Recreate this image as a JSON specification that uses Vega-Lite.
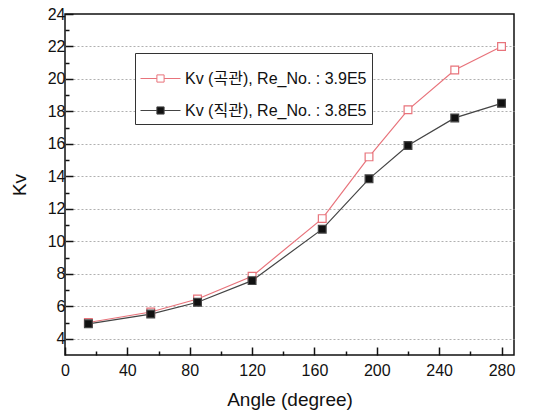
{
  "$schema": "https://vega.github.io/schema/vega-lite/v6.json",
  "width": 449,
  "height": 341,
  "autosize": {"type": "none"},
  "padding": {"left": 65, "top": 14, "right": 21, "bottom": 58},
  "background": "white",
  "config": {
    "font": "Liberation Sans, Noto Sans CJK KR",
    "view": {"stroke": "#111", "strokeWidth": 1.5},
    "legend": {
      "title": null,
      "orient": "none",
      "legendX": 70,
      "legendY": 39,
      "symbolType": "M-1,0H-0.18M0.18,0H1M-0.18,-0.18H0.18V0.18H-0.18Z",
      "symbolSize": 1600,
      "symbolStrokeWidth": 1,
      "labelFontSize": 16,
      "labelColor": "#111",
      "labelOffset": 4,
      "rowPadding": 3,
      "padding": 5,
      "strokeColor": "#333",
      "fillColor": "white",
      "labelLimit": 400
    }
  },
  "data": {
    "values": [
      {"series": "Kv (곡관), Re_No. : 3.9E5", "angle": 15, "kv": 5.0},
      {"series": "Kv (곡관), Re_No. : 3.9E5", "angle": 55, "kv": 5.65},
      {"series": "Kv (곡관), Re_No. : 3.9E5", "angle": 85, "kv": 6.45},
      {"series": "Kv (곡관), Re_No. : 3.9E5", "angle": 120, "kv": 7.85},
      {"series": "Kv (곡관), Re_No. : 3.9E5", "angle": 165, "kv": 11.4},
      {"series": "Kv (곡관), Re_No. : 3.9E5", "angle": 195, "kv": 15.2},
      {"series": "Kv (곡관), Re_No. : 3.9E5", "angle": 220, "kv": 18.1},
      {"series": "Kv (곡관), Re_No. : 3.9E5", "angle": 250, "kv": 20.55},
      {"series": "Kv (곡관), Re_No. : 3.9E5", "angle": 280, "kv": 22.0},
      {"series": "Kv (직관), Re_No. : 3.8E5", "angle": 15, "kv": 4.92},
      {"series": "Kv (직관), Re_No. : 3.8E5", "angle": 55, "kv": 5.52},
      {"series": "Kv (직관), Re_No. : 3.8E5", "angle": 85, "kv": 6.25},
      {"series": "Kv (직관), Re_No. : 3.8E5", "angle": 120, "kv": 7.58},
      {"series": "Kv (직관), Re_No. : 3.8E5", "angle": 165, "kv": 10.75},
      {"series": "Kv (직관), Re_No. : 3.8E5", "angle": 195, "kv": 13.85},
      {"series": "Kv (직관), Re_No. : 3.8E5", "angle": 220, "kv": 15.9},
      {"series": "Kv (직관), Re_No. : 3.8E5", "angle": 250, "kv": 17.6},
      {"series": "Kv (직관), Re_No. : 3.8E5", "angle": 280, "kv": 18.5}
    ]
  },
  "encoding": {
    "x": {
      "field": "angle",
      "type": "quantitative",
      "scale": {"domain": [0, 288], "nice": false, "zero": false},
      "axis": {
        "title": "Angle (degree)",
        "titleFontSize": 19,
        "titleFontWeight": "normal",
        "titleColor": "#111",
        "titlePadding": 12,
        "values": [0, 20, 40, 60, 80, 100, 120, 140, 160, 180, 200, 220, 240, 260, 280],
        "labelExpr": "datum.value % 40 === 0 ? datum.label : ''",
        "labelFontSize": 16,
        "labelColor": "#111",
        "labelPadding": 15,
        "labelFlush": false,
        "tickColor": "#111",
        "tickWidth": 1.5,
        "tickSize": {"condition": {"test": "datum.value % 40 === 0", "value": -8}, "value": -4},
        "domain": false,
        "grid": false,
        "zindex": 1
      }
    },
    "y": {
      "field": "kv",
      "type": "quantitative",
      "scale": {"domain": [3, 24], "nice": false, "zero": false},
      "axis": {
        "title": "Kv",
        "titleFontSize": 19,
        "titleFontWeight": "normal",
        "titleColor": "#111",
        "titlePadding": 18,
        "values": [4, 5, 6, 7, 8, 9, 10, 11, 12, 13, 14, 15, 16, 17, 18, 19, 20, 21, 22, 23, 24],
        "labelExpr": "datum.value % 2 === 0 ? datum.label : ''",
        "labelFontSize": 16,
        "labelColor": "#111",
        "labelPadding": 8,
        "labelFlush": false,
        "tickColor": "#111",
        "tickWidth": 1.5,
        "tickSize": {"condition": {"test": "datum.value % 2 === 0", "value": -8}, "value": -4},
        "domain": false,
        "grid": true,
        "gridColor": "#b0b0b0",
        "gridDash": [2, 2],
        "gridWidth": 1,
        "gridOpacity": {"condition": {"test": "datum.value % 2 === 0 && datum.value < 24", "value": 1}, "value": 0},
        "zindex": 0
      }
    }
  },
  "layer": [
    {
      "mark": {"type": "line", "strokeWidth": 1.2},
      "encoding": {
        "stroke": {
          "field": "series",
          "type": "nominal",
          "scale": {"domain": ["Kv (곡관), Re_No. : 3.9E5", "Kv (직관), Re_No. : 3.8E5"], "range": ["#e8737b", "#444444"]}
        }
      }
    },
    {
      "mark": {"type": "point", "shape": "square", "size": 60, "strokeWidth": 1.2, "opacity": 1, "filled": false},
      "encoding": {
        "stroke": {"field": "series", "type": "nominal"},
        "fill": {
          "field": "series",
          "type": "nominal",
          "scale": {"domain": ["Kv (곡관), Re_No. : 3.9E5", "Kv (직관), Re_No. : 3.8E5"], "range": ["white", "#111111"]}
        }
      }
    }
  ]
}
